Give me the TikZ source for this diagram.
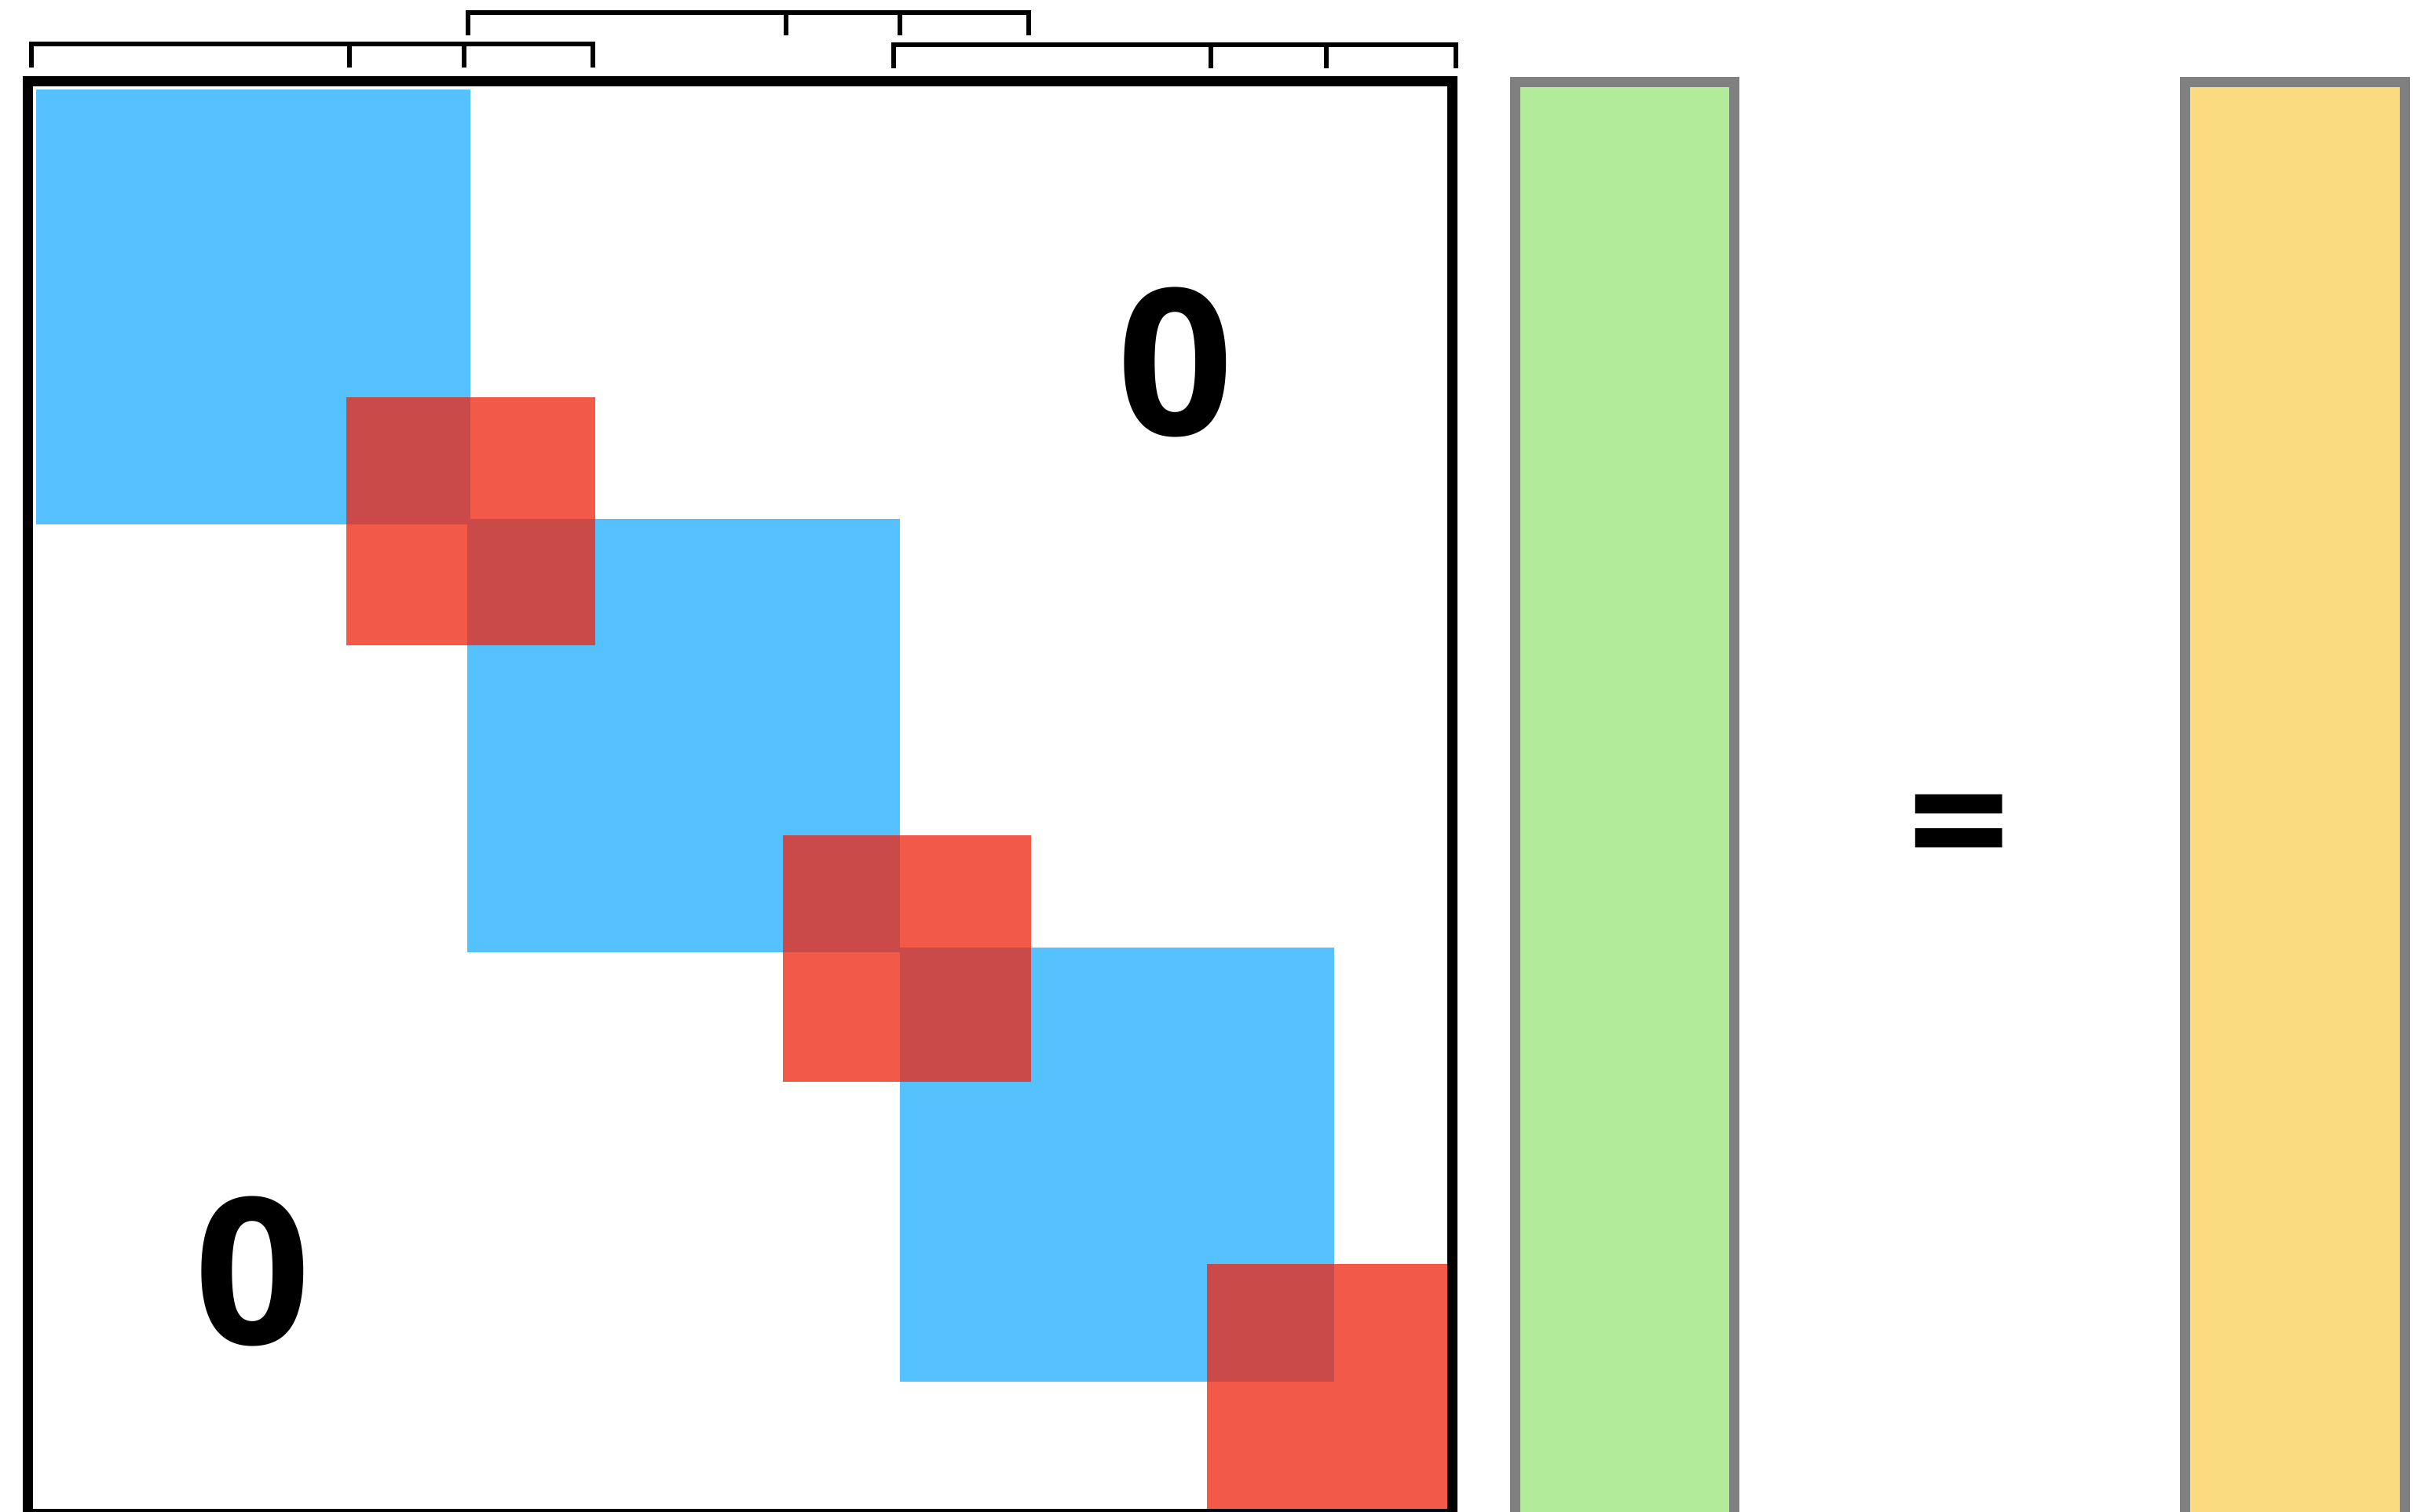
\documentclass[tikz,border=0pt]{standalone}
\usepackage{fontspec}
\setmainfont{Open Sans}
\usepackage{tikz}
\usetikzlibrary{positioning, calc}
\definecolor{cB}{RGB}{86,193,255}
\definecolor{cR}{RGB}{238,37,16}
\definecolor{cG}{RGB}{178,235,153}
\definecolor{cY}{RGB}{250,219,128}

\begin{document}
\begin{tikzpicture}[
    blk/.style={fill=cB, draw=none},
    ovl/.style={fill=cR, fill opacity=0.76, draw=none},
    vec/.style={draw=gray, line width=0.13cm},
    brk/.style={line width=0.055cm},
    big/.style={inner sep=0pt, font=\fontsize{74}{80}\selectfont\bfseries}
]
    \useasboundingbox (0,0) rectangle (30.83,19.25);

    % Diagonal blocks
    \fill[blk] (0.46,18.11) rectangle (5.99,12.57);
    \fill[blk] (5.95,12.64) rectangle (11.46,7.12);
    \fill[blk] (11.46,7.18) rectangle (16.99,1.65);

    % Overlapping coupling blocks
    \fill[ovl] (4.41,14.19) rectangle (7.58,11.03);
    \fill[ovl] (9.97,8.61) rectangle (13.13,5.47);
    \fill[ovl] (15.37,3.15) rectangle (18.54,-0.05);

    % Matrix frame
    \draw[line width=0.13cm] (0.35,-0.035) rectangle (18.49,18.21);

    % Zero labels
    \node[big] (Zup) at (14.97,14.635) {0};
    \node[big] (Zlow) at (3.215,3.06) {0};

    % Vectors
    \draw[vec, fill=cG] (19.29,-0.2) rectangle (22.08,18.205);
    \draw[vec, fill=cY] (27.82,-0.2) rectangle (30.62,18.205);
    \node[big, font=\fontsize{65}{70}\selectfont\bfseries] (Eq) at (24.95,8.56) {=};

    % Brackets over the blocks
    \draw[brk] (0.40,18.39) -- (0.40,18.69) -- (7.55,18.69) -- (7.55,18.39);
    \draw[brk] (4.45,18.69) -- (4.45,18.39);
    \draw[brk] (5.91,18.69) -- (5.91,18.39);

    \draw[brk] (5.96,18.80) -- (5.96,19.09) -- (13.10,19.09) -- (13.10,18.80);
    \draw[brk] (10.01,19.09) -- (10.01,18.80);
    \draw[brk] (11.46,19.09) -- (11.46,18.80);

    \draw[brk] (11.38,18.38) -- (11.38,18.68) -- (18.54,18.68) -- (18.54,18.38);
    \draw[brk] (15.42,18.68) -- (15.42,18.38);
    \draw[brk] (16.89,18.68) -- (16.89,18.38);

\end{tikzpicture}
\end{document}
